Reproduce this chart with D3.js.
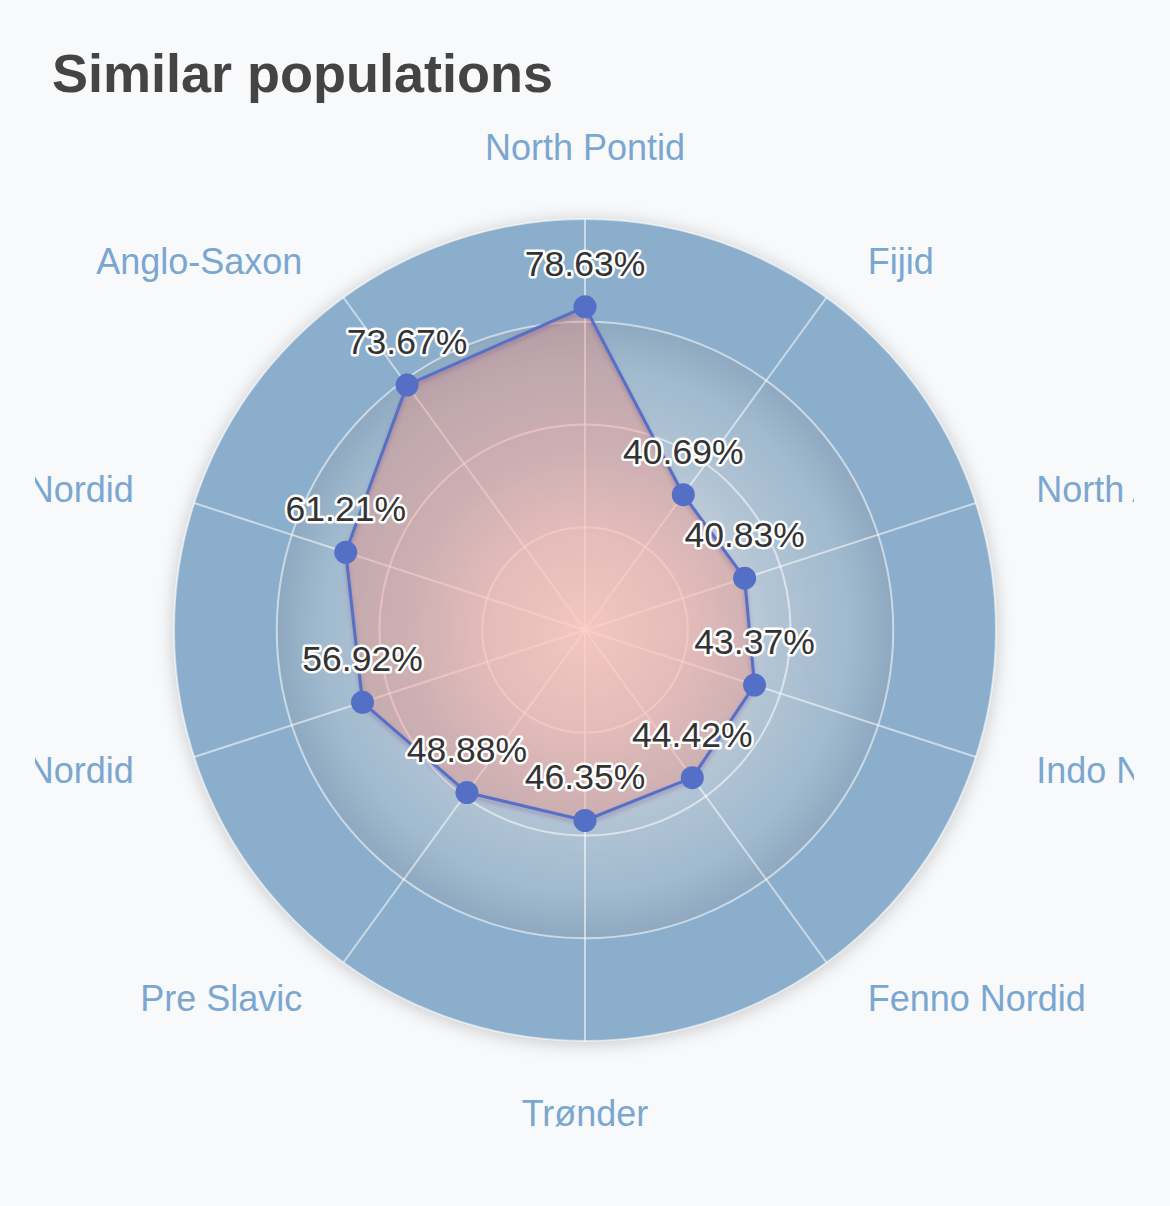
<!DOCTYPE html>
<html>
<head>
<meta charset="utf-8">
<script src="https://cdn.jsdelivr.net/npm/d3@7"></script>
<style>
  html, body { margin: 0; padding: 0; background: #f8f9fb; }
  svg { display: block; }
</style>
</head>
<body>
<svg id="chart" width="1170" height="1206"></svg>
<script>
const categories = ["North Pontid", "Fijid", "North Atlantid", "Indo Nordid", "Fenno Nordid",
                    "Trønder", "Pre Slavic", "Keltic Nordid", "Hallstatt Nordid", "Anglo-Saxon"];
const values = [78.63, 40.69, 40.83, 43.37, 44.42, 46.35, 48.88, 56.92, 61.21, 73.67];
const ringTicks = [25, 50, 75, 100];
const title = "Similar populations";

const W = 1170, H = 1206;
const cx = 585, cy = 630, R = 411;
const svg = d3.select("#chart");

const defs = svg.append("defs");
const shadow = defs.append("filter").attr("id", "diskShadow")
  .attr("x", "-20%").attr("y", "-20%").attr("width", "140%").attr("height", "140%");
shadow.append("feDropShadow").attr("dx", 0).attr("dy", 2).attr("stdDeviation", 9)
  .attr("flood-color", "#000").attr("flood-opacity", 0.22);

const lineShadow = defs.append("filter").attr("id", "lineShadow")
  .attr("x", "-20%").attr("y", "-20%").attr("width", "140%").attr("height", "140%");
lineShadow.append("feDropShadow").attr("dx", 0).attr("dy", 3).attr("stdDeviation", 2)
  .attr("flood-color", "#7a4f8a").attr("flood-opacity", 0.45);

const grad = defs.append("radialGradient").attr("id", "innerGrad")
  .attr("cx", "50%").attr("cy", "50%").attr("r", "50%");
[[0, "#f3ecec"], [0.3, "#dddbe3"], [0.6, "#b3c5d5"], [0.85, "#a1bace"], [1, "#8ea9c0"]]
  .forEach(([o, c]) => grad.append("stop").attr("offset", o).attr("stop-color", c));

const clip = defs.append("clipPath").attr("id", "plotClip");
clip.append("rect").attr("x", 35).attr("y", 0).attr("width", 1099).attr("height", H);

// Title
svg.append("text").attr("x", 52).attr("y", 92)
  .attr("font-family", "'Liberation Sans', Arial, Helvetica, sans-serif")
  .attr("font-weight", "bold").attr("font-size", 54).attr("fill", "#444")
  .text(title);

const g = svg.append("g").attr("clip-path", "url(#plotClip)");
const plot = g.append("g").attr("transform", `translate(${cx},${cy})`);

const r = d3.scaleLinear().domain([0, 100]).range([0, R]);
const angle = d3.scaleLinear().domain([0, categories.length]).range([0, 2 * Math.PI]);

// Background disks
plot.append("circle").attr("r", r(100)).attr("fill", "#8aaecb")
  .attr("filter", "url(#diskShadow)");
plot.append("circle").attr("r", r(75)).attr("fill", "url(#innerGrad)");

// Grid rings
plot.selectAll("circle.ring").data(ringTicks).join("circle").attr("class", "ring")
  .attr("r", d => r(d)).attr("fill", "none")
  .attr("stroke", "rgba(255,255,255,0.55)").attr("stroke-width", 2);

// Spokes
plot.selectAll("line.spoke").data(categories).join("line").attr("class", "spoke")
  .attr("x1", 0).attr("y1", 0)
  .attr("x2", (d, i) => r(100) * Math.sin(angle(i)))
  .attr("y2", (d, i) => -r(100) * Math.cos(angle(i)))
  .attr("stroke", "rgba(255,255,255,0.55)").attr("stroke-width", 2);

// Data polygon
const radial = d3.lineRadial()
  .angle((d, i) => angle(i))
  .radius(d => r(d))
  .curve(d3.curveLinearClosed);

plot.append("path").datum(values).attr("d", radial)
  .attr("fill", "rgba(245,140,120,0.38)").attr("stroke", "none");
plot.append("path").datum(values).attr("d", radial)
  .attr("fill", "none").attr("stroke", "#5470c6").attr("stroke-width", 3)
  .attr("stroke-linejoin", "round").attr("filter", "url(#lineShadow)");

const pts = values.map((v, i) => [r(v) * Math.sin(angle(i)), -r(v) * Math.cos(angle(i))]);

plot.selectAll("circle.pt").data(pts).join("circle").attr("class", "pt")
  .attr("cx", d => d[0]).attr("cy", d => d[1]).attr("r", 11.5)
  .attr("fill", "#5470c6");

// Value labels
plot.selectAll("text.val").data(values).join("text").attr("class", "val")
  .attr("x", (d, i) => pts[i][0]).attr("y", (d, i) => pts[i][1] - 31)
  .attr("text-anchor", "middle")
  .attr("font-family", "'Liberation Sans', Arial, Helvetica, sans-serif")
  .attr("font-size", 35.5).attr("fill", "#333")
  .attr("stroke", "#fff").attr("stroke-width", 5).attr("stroke-linejoin", "round")
  .attr("paint-order", "stroke")
  .text(d => d.toFixed(2) + "%");

// Category labels
plot.selectAll("text.cat").data(categories).join("text").attr("class", "cat")
  .each(function(d, i) {
    const a = angle(i);
    const s = Math.sin(a), c = Math.cos(a);
    let x, yc, anchor;
    if (Math.abs(s) < 0.01) {
      x = 0; anchor = "middle"; yc = -483 * c;
    } else {
      x = 464 * s + (s > 0 ? 10 : -10); anchor = s > 0 ? "start" : "end"; yc = -455 * c;
    }
    d3.select(this).attr("x", x).attr("y", yc + 12.5).attr("text-anchor", anchor);
  })
  .attr("font-family", "'Liberation Sans', Arial, Helvetica, sans-serif")
  .attr("font-size", 36).attr("fill", "#7aa7cf")
  .text(d => d);
</script>
</body>
</html>
